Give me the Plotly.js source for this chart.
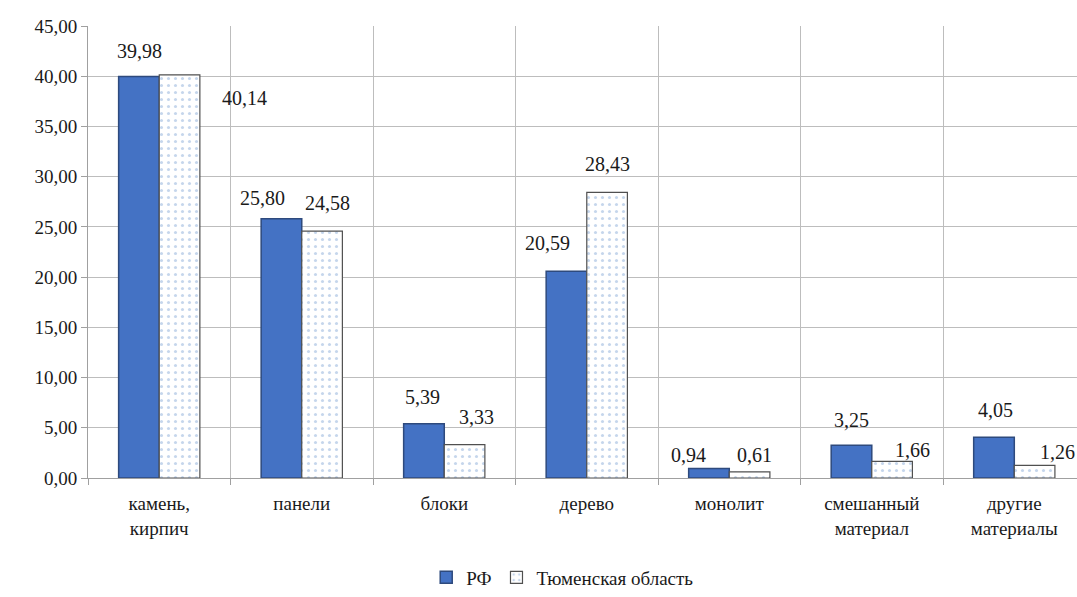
<!DOCTYPE html>
<html>
<head>
<meta charset="utf-8">
<script src="https://cdn.plot.ly/plotly-3.0.1.min.js"></script>
<style>
html,body{margin:0;padding:0;background:#fff;overflow:hidden}
#chart{width:1077px;height:597px}
</style>
</head>
<body>
<div id="chart"></div>
<script>
var categories = ["камень,<br>кирпич", "панели", "блоки", "дерево", "монолит", "смешанный<br>материал", "другие<br>материалы"];
var seriesNames = ["РФ", "Тюменская область"];
var valuesRF = [39.98, 25.80, 5.39, 20.59, 0.94, 3.25, 4.05];
var valuesTyumen = [40.14, 24.58, 3.33, 28.43, 0.61, 1.66, 1.26];
var yTickValues = [0, 5, 10, 15, 20, 25, 30, 35, 40, 45];

// label placement offsets (pixels) relative to bar top centre
var dxRF = [1, -19, -1, -19, -20, 0, 1];
var dyRF = [25, 21, 27, 28, 14, 25, 27];
var dxTY = [65, 5, 12, 0, 5, 20, 23];
var dyTY = [-23, 28, 28, 28, 17, 11, 13];

var FF = 'serif';
function fmt(v){ return v.toFixed(2).replace('.', ','); }
var yTickText = yTickValues.map(fmt);

var traceRF = {
  type: 'bar', name: seriesNames[0], x: categories, y: valuesRF,
  marker: {color: '#4472C4', line: {color: '#2E4A7D', width: 1.5}}
};
var traceTY = {
  type: 'bar', name: seriesNames[1], x: categories, y: valuesTyumen,
  marker: {color: '#FFFFFF', line: {color: '#505050', width: 1.2},
    pattern: {shape: '.', fgcolor: '#C5D6EC', bgcolor: '#FFFFFF', size: 7, solidity: 0.15}}
};

var annotations = [];
var barOff = 20.3;
for (var i = 0; i < categories.length; i++) {
  annotations.push({x: categories[i], y: valuesRF[i], text: fmt(valuesRF[i]), showarrow: false,
    xshift: -barOff + dxRF[i], yshift: dyRF[i], font: {family: FF, size: 20, color: '#1a1a1a'}});
  annotations.push({x: categories[i], y: valuesTyumen[i], text: fmt(valuesTyumen[i]), showarrow: false,
    xshift: barOff + dxTY[i], yshift: dyTY[i], font: {family: FF, size: 20, color: '#1a1a1a'}});
}

var layout = {
  width: 1077, height: 597,
  margin: {l: 88, r: 0, t: 26, b: 119},
  barmode: 'group', bargap: 0.43, bargroupgap: 0,
  font: {family: FF, size: 18, color: '#1a1a1a'},
  xaxis: {
    type: 'category', range: [-0.5, 6.44],
    showgrid: true, gridcolor: '#BDBDBD', gridwidth: 1,
    ticks: 'outside', ticklen: 6, tickcolor: '#A0A0A0', tickson: 'boundaries',
    showline: true, linecolor: '#A0A0A0', linewidth: 1, ticklabelstandoff: 8,
    tickfont: {family: FF, size: 19, color: '#1a1a1a'}
  },
  yaxis: {
    range: [0, 45], tickmode: 'array', tickvals: yTickValues, ticktext: yTickText,
    showgrid: true, gridcolor: '#BDBDBD', gridwidth: 1,
    ticks: 'outside', ticklen: 6, tickcolor: '#A0A0A0',
    showline: true, linecolor: '#A0A0A0', linewidth: 1, zeroline: false,
    tickfont: {family: FF, size: 19, color: '#1a1a1a'}
  },
  legend: {orientation: 'h', x: 0.48, xanchor: 'center', y: -0.22, yanchor: 'middle',
    font: {family: FF, size: 19, color: '#1a1a1a'}},
  annotations: annotations,
  showlegend: true
};

Plotly.newPlot('chart', [traceRF, traceTY], layout, {displayModeBar: false});
</script>
</body>
</html>
